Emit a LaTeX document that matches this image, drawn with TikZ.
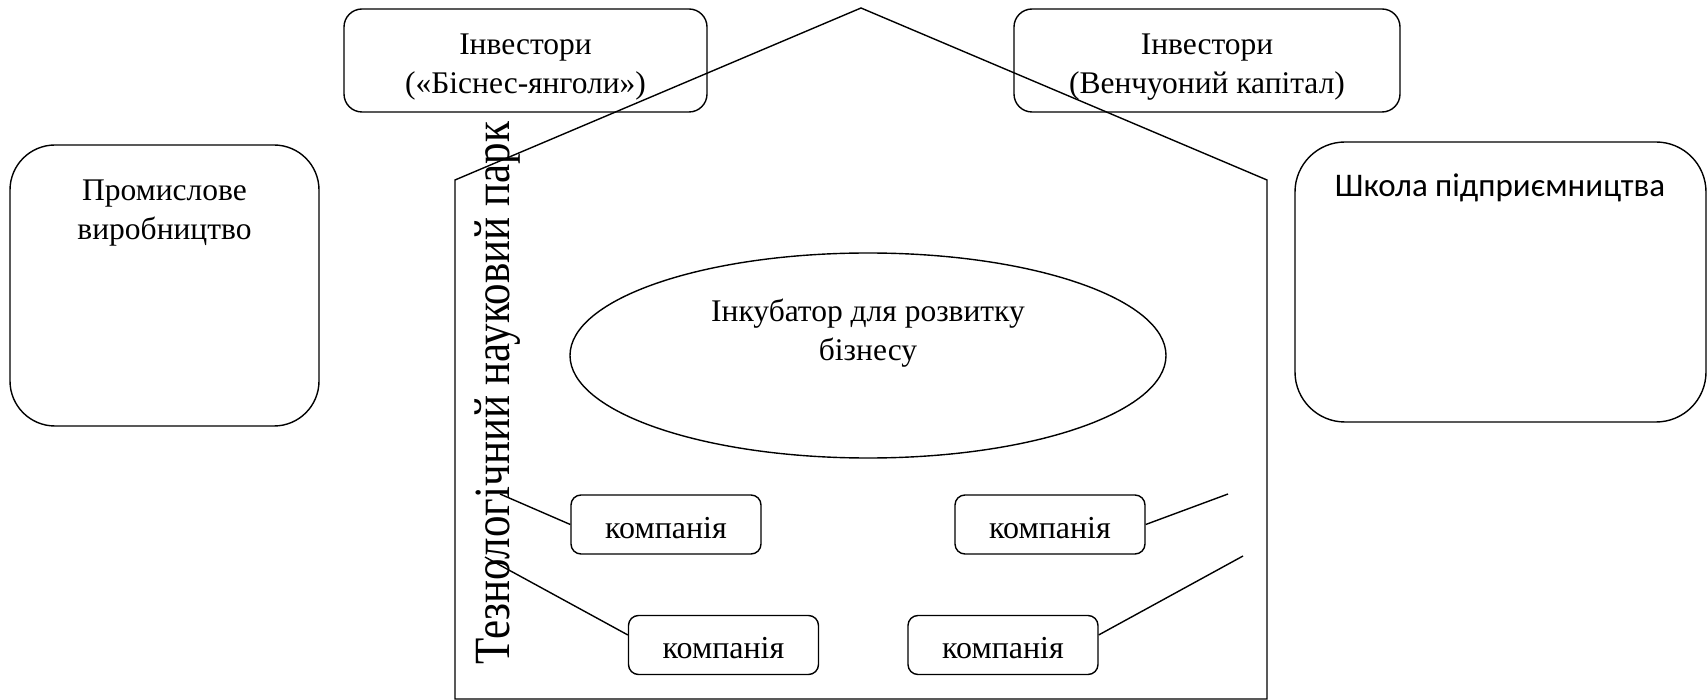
\documentclass[tikz,border=0pt]{standalone}
\usepackage{fontspec}
\setmainfont{Liberation Serif}
\newfontfamily\calibfont{Carlito}
\usetikzlibrary{shapes.geometric}
\begin{document}
\begin{tikzpicture}[x=1pt,y=-1pt,line width=1.4pt,
  rbox/.style={draw,rounded corners=#1,inner sep=0pt},
  txt/.style={font=\fontsize{31.5}{39.5}\selectfont,align=center,inner sep=0pt},
  comp/.style={rbox=10pt,minimum width=190pt,minimum height=59pt,
    font=\fontsize{32}{38}\selectfont,text height=35pt,text depth=8pt},
  conn/.style={line width=1.4pt}]
\useasboundingbox (0,0) rectangle (1708,700);
% house outline
\coordinate (hbl) at (455,699);
\coordinate (htl) at (455,180);
\coordinate (apex) at (861,8);
\coordinate (htr) at (1267,180);
\coordinate (hbr) at (1267,699);
\draw (hbl) -- (htl) -- (apex) -- (htr) -- (hbr) -- cycle;
% investor boxes
\node[rbox=18pt,minimum width=363pt,minimum height=103pt] (invL) at (525.5,60.5) {};
\node[txt,anchor=north] (invLt) at (525.5,33) {Інвестори\\(«Біснес-янголи»)};
\node[rbox=18pt,minimum width=386pt,minimum height=103pt] (invR) at (1207,60.5) {};
\node[txt,anchor=north] (invRt) at (1207,33) {Інвестори\\(Венчуоний капітал)};
% side boxes
\node[rbox=45pt,minimum width=309pt,minimum height=281pt] (prom) at (164.5,285.5) {};
\node[txt,anchor=north] (promt) at (164.5,179) {Промислове\\виробництво};
\node[rbox=50pt,minimum width=411pt,minimum height=280pt] (shk) at (1500.5,282) {};
\node[anchor=base,inner sep=0pt,font=\calibfont\fontsize{33}{38}\selectfont] (shkt) at (1500,197) {Школа підприємництва};
% incubator
\node[draw,ellipse,inner sep=0pt,minimum width=596pt,minimum height=205pt] (inc) at (868,355.5) {};
\node[txt,anchor=north] (inct) at (868,298) {Інкубатор для розвитку\\бізнесу};
% companies
\node[comp] (c1) at (666,524.5) {компанія};
\node[comp] (c2) at (1050,524.5) {компанія};
\node[comp] (c3) at (723.5,645) {компанія};
\node[comp] (c4) at (1003,645) {компанія};
% vertical label
\node[rotate=90,anchor=base west,inner sep=0pt,font=\fontsize{43}{43}\selectfont] (park) at (509,665) {\scalebox{1}[1.18]{Тезнологічний науковий парк}};
% connectors
\coordinate (e1) at (500,494);
\coordinate (e2) at (1228,494);
\coordinate (e3) at (485,557);
\coordinate (e4) at (1243,556);
\draw[conn] (c1.west) -- (e1);
\draw[conn] (c2.east) -- (e2);
\draw[conn] (c3.174) -- (e3);
\draw[conn] (c4.6) -- (e4);
\end{tikzpicture}
\end{document}
